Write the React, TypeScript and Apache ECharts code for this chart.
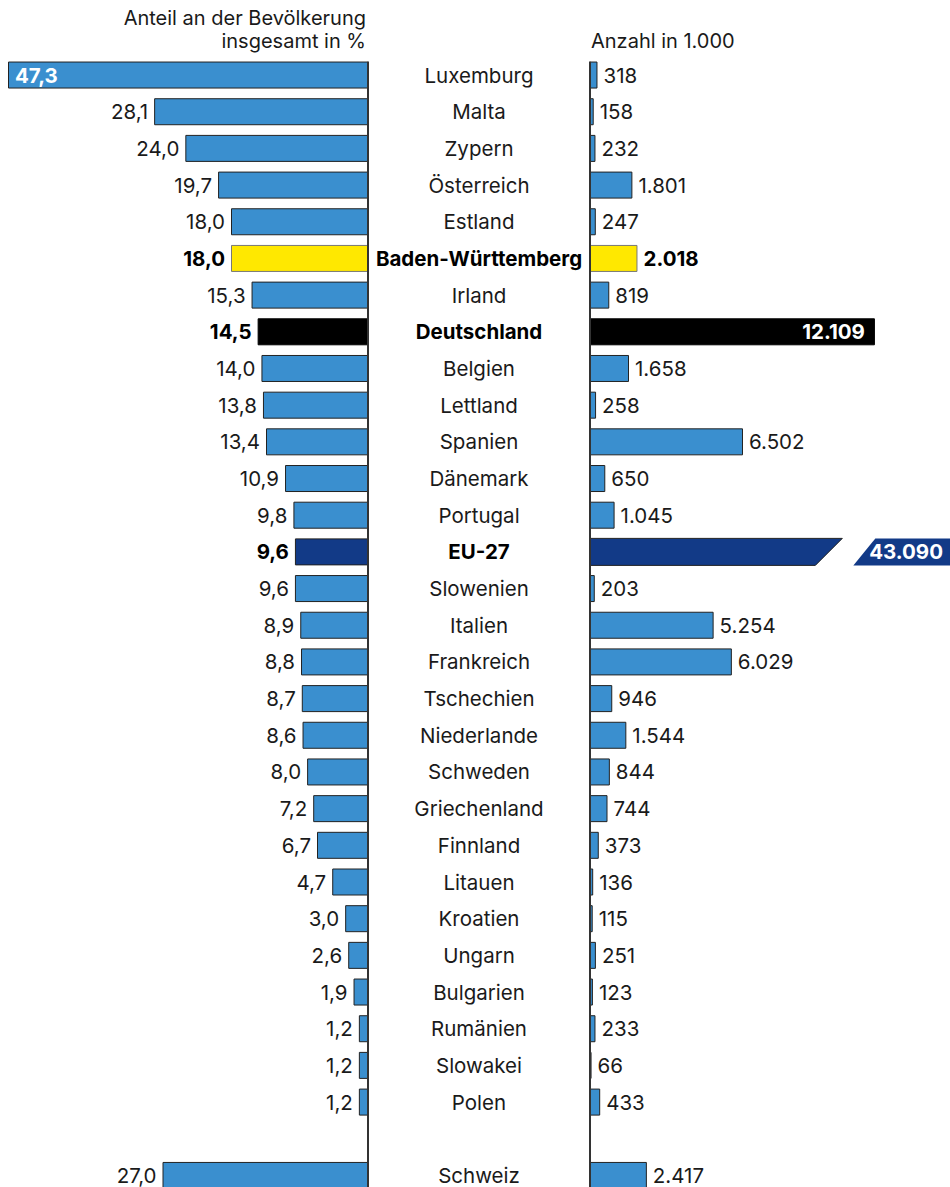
import React, { useEffect, useRef } from "react";
import * as echarts from "echarts";

// ---------- data ----------
const countries: string[] = [
  "Luxemburg", "Malta", "Zypern", "Österreich", "Estland", "Baden-Württemberg",
  "Irland", "Deutschland", "Belgien", "Lettland", "Spanien", "Dänemark",
  "Portugal", "EU-27", "Slowenien", "Italien", "Frankreich", "Tschechien",
  "Niederlande", "Schweden", "Griechenland", "Finnland", "Litauen", "Kroatien",
  "Ungarn", "Bulgarien", "Rumänien", "Slowakei", "Polen", "", "Schweiz",
];
// Anteil an der Bevölkerung insgesamt in %
const shares: (number | null)[] = [
  47.3, 28.1, 24.0, 19.7, 18.0, 18.0, 15.3, 14.5, 14.0, 13.8, 13.4, 10.9, 9.8,
  9.6, 9.6, 8.9, 8.8, 8.7, 8.6, 8.0, 7.2, 6.7, 4.7, 3.0, 2.6, 1.9, 1.2, 1.2, 1.2,
  null, 27.0,
];
// Anzahl in 1.000
const counts: (number | null)[] = [
  318, 158, 232, 1801, 247, 2018, 819, 12109, 1658, 258, 6502, 650, 1045,
  43090, 203, 5254, 6029, 946, 1544, 844, 744, 373, 136, 115, 251, 123, 233, 66,
  433, null, 2417,
];
const brokenCategory = "EU-27";
const leftTitleLines = ["Anteil an der Bevölkerung", "insgesamt in %"];
const rightTitle = "Anzahl in 1.000";

// ---------- styles ----------
const FONT = "Inter, 'Noto Sans', sans-serif";
const TEXT = "#1a1a1a";
const BLUE = "#3a8fcf";
const highlightColor: Record<string, string> = {
  "Baden-Württemberg": "#ffe800",
  Deutschland: "#000000",
  "EU-27": "#123a87",
};
const W = 950;
const H = 1187;
const CHART_H = 1200;
const GRID_TOP = 56.7;
const BAND = 36.68;
const BAR_H = 27;
const AXIS_L = 368;
const AXIS_R = 590;
const LEFT_MAX = 47.3;
const RIGHT_MAX = 15300;
const BREAK_AT = 10150; // where the EU-27 bar is visually cut
const SLANT = 27;
const FS = 20.5;
const TITLE_FS = 20;

const fmtShare = (v: number) => v.toFixed(1).replace(".", ",");
const fmtCount = (v: number) =>
  Math.round(v).toString().replace(/\B(?=(\d{3})+(?!\d))/g, ".");

export default function App() {
  const ref = useRef<HTMLDivElement>(null);
  useEffect(() => {
    if (!ref.current) return;
    const chart = echarts.init(ref.current, undefined, { renderer: "svg" });
    const n = countries.length;
    const gridHeight = n * BAND;

    const border = (c: string) =>
      c === "Deutschland" ? "#000" : c === "Baden-Württemberg" ? "#777" : "#222";

    const leftData = shares.map((v, i) => {
      const c = countries[i];
      if (v == null) return "-";
      const hl = highlightColor[c];
      const item: any = {
        value: v,
        itemStyle: { color: hl || BLUE, borderColor: border(c) },
      };
      if (i === 0) {
        item.label = {
          position: "insideLeft",
          distance: 7,
          color: "#fff",
          fontWeight: "bold",
        };
      } else if (hl) {
        item.label = { fontWeight: "bold", color: "#000" };
      }
      return item;
    });

    const rightData = counts.map((v, i) => {
      const c = countries[i];
      if (v == null || c === brokenCategory) return "-";
      const hl = highlightColor[c];
      const item: any = {
        value: v,
        itemStyle: { color: hl || BLUE, borderColor: border(c) },
      };
      if (c === "Deutschland") {
        item.label = {
          position: "insideRight",
          distance: 10,
          color: "#fff",
          fontWeight: "bold",
        };
      } else if (hl) {
        item.label = { fontWeight: "bold", color: "#000" };
      }
      return item;
    });

    const brokenIdx = countries.indexOf(brokenCategory);
    const brokenData = [[counts[brokenIdx] as number, brokenIdx]];

    const lineTop = GRID_TOP + (BAND - BAR_H) / 2;

    chart.setOption({
      animation: false,
      textStyle: { fontFamily: FONT },
      grid: [
        { left: 8, width: AXIS_L - 8, top: GRID_TOP, height: gridHeight },
        { left: AXIS_R, width: W - AXIS_R, top: GRID_TOP, height: gridHeight },
      ],
      xAxis: [
        { gridIndex: 0, type: "value", min: 0, max: LEFT_MAX, inverse: true, show: false },
        { gridIndex: 1, type: "value", min: 0, max: RIGHT_MAX, show: false },
      ],
      yAxis: [
        {
          gridIndex: 0,
          type: "category",
          data: countries,
          inverse: true,
          position: "right",
          axisLine: { show: false },
          axisTick: { show: false },
          axisLabel: { show: false },
        },
        {
          gridIndex: 1,
          type: "category",
          data: countries,
          inverse: true,
          position: "left",
          axisLine: { show: false },
          axisTick: { show: false },
          axisLabel: {
            margin: (AXIS_R - AXIS_L) / 2,
            align: "center",
            fontSize: FS,
            fontFamily: FONT,
            color: TEXT,
            formatter: (v: string) => (highlightColor[v] ? `{b|${v}}` : v),
            rich: {
              b: { fontSize: FS, fontFamily: FONT, fontWeight: "bold", color: "#000" },
            },
          },
        },
      ],
      series: [
        {
          type: "bar",
          xAxisIndex: 0,
          yAxisIndex: 0,
          data: leftData,
          barWidth: BAR_H,
          itemStyle: { borderWidth: 1 },
          label: {
            show: true,
            position: "left",
            distance: 6,
            fontSize: FS,
            fontFamily: FONT,
            color: TEXT,
            formatter: (p: any) => fmtShare(p.value),
          },
        },
        {
          type: "bar",
          xAxisIndex: 1,
          yAxisIndex: 1,
          data: rightData,
          barWidth: BAR_H,
          itemStyle: { borderWidth: 1 },
          label: {
            show: true,
            position: "right",
            distance: 6,
            fontSize: FS,
            fontFamily: FONT,
            color: TEXT,
            formatter: (p: any) => fmtCount(p.value),
          },
        },
        {
          type: "custom",
          xAxisIndex: 1,
          yAxisIndex: 1,
          data: brokenData,
          clip: false,
          renderItem: (params: any, api: any) => {
            const val = api.value(0);
            const idx = api.value(1);
            const start = api.coord([0, idx]);
            const cut = api.coord([Math.min(val, BREAK_AT), idx]);
            const y0 = start[1] - BAR_H / 2;
            const y1 = start[1] + BAR_H / 2;
            const tr = cut[0] + SLANT / 2;
            const br = cut[0] - SLANT / 2;
            const lblL = tr + 33;
            const color = highlightColor[brokenCategory];
            return {
              type: "group",
              children: [
                {
                  type: "polygon",
                  shape: { points: [[start[0], y0], [tr, y0], [br, y1], [start[0], y1]] },
                  style: { fill: color, stroke: "#222", lineWidth: 1 },
                },
                {
                  type: "polygon",
                  shape: {
                    points: [[lblL, y0], [W + 2, y0], [W + 2, y1], [lblL - SLANT + 5, y1]],
                  },
                  style: { fill: color },
                },
                {
                  type: "text",
                  style: {
                    text: fmtCount(val),
                    x: W - 7,
                    y: start[1],
                    align: "right",
                    verticalAlign: "middle",
                    fill: "#fff",
                    font: `bold ${FS}px ${FONT}`,
                  },
                },
              ],
            };
          },
        },
      ],
      graphic: [
        {
          type: "line",
          shape: { x1: AXIS_L, y1: lineTop, x2: AXIS_L, y2: CHART_H },
          style: { stroke: "#333", lineWidth: 2 },
          z: 100,
        },
        {
          type: "line",
          shape: { x1: AXIS_R, y1: lineTop, x2: AXIS_R, y2: CHART_H },
          style: { stroke: "#333", lineWidth: 2 },
          z: 100,
        },
        {
          type: "text",
          x: AXIS_L - 2,
          y: 17.5,
          style: {
            text: leftTitleLines[0],
            align: "right",
            verticalAlign: "middle",
            font: `${TITLE_FS}px ${FONT}`,
            fill: TEXT,
          },
        },
        {
          type: "text",
          x: AXIS_L - 2,
          y: 40.5,
          style: {
            text: leftTitleLines[1],
            align: "right",
            verticalAlign: "middle",
            font: `${TITLE_FS}px ${FONT}`,
            fill: TEXT,
          },
        },
        {
          type: "text",
          x: AXIS_R + 1,
          y: 40.5,
          style: {
            text: rightTitle,
            align: "left",
            verticalAlign: "middle",
            font: `${TITLE_FS}px ${FONT}`,
            fill: TEXT,
          },
        },
      ],
    });
    return () => chart.dispose();
  }, []);
  return (
    <div
      style={{
        position: "absolute",
        left: 0,
        top: 0,
        width: W,
        height: H,
        overflow: "hidden",
      }}
    >
      <div ref={ref} style={{ width: W, height: CHART_H }} />
    </div>
  );
}
